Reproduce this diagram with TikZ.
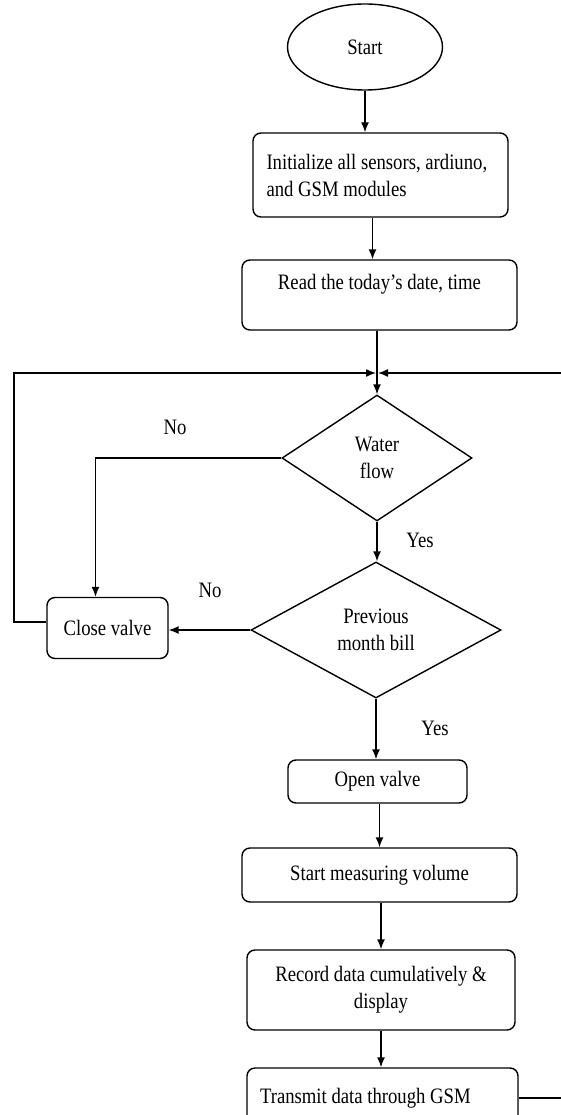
\documentclass[tikz,border=0pt]{standalone}
\usepackage{fontspec}
\setmainfont{Liberation Serif}[FakeStretch=0.85]
\usetikzlibrary{shapes.geometric,arrows.meta,positioning}

\begin{document}
\begin{tikzpicture}[x=1pt, y=-1pt,
    line width=1.4pt,
    font=\fontsize{22}{27}\selectfont,
    box/.style = {draw, rounded corners=8pt, inner sep=0pt, align=center},
    cond/.style = {draw, diamond, inner sep=0pt, align=center},
    flow/.style = {-{Latex[length=10pt,width=8pt]}}]
    \useasboundingbox (0,0) rectangle (561,1115);
    \node[draw, ellipse, minimum width=155pt, minimum height=86pt] (st) at (365,47) {Start};
    \node[box, minimum width=255pt, minimum height=84pt] (init) at (380.5,175)
      {\makebox[228pt][l]{Initialize all sensors, ardiuno,}\\\makebox[228pt][l]{and GSM modules}};
    \node[box, minimum width=275pt, minimum height=70pt] (rd) at (379.5,295)
      {Read the today’s date, time\\\mbox{}};
    \coordinate (j) at (377,373);
    \coordinate (lc) at (14,373);
    \coordinate (rc) at (600,373);
    \node[cond, minimum width=190pt, minimum height=126pt] (wf) at (377,458) {Water\\flow};
    \node[cond, minimum width=250pt, minimum height=136pt] (pb) at (376,630) {Previous\\month bill};
    \node[box, minimum width=121pt, minimum height=61pt] (cv) at (107.5,628) {Close valve};
    \node[box, minimum width=179pt, minimum height=43pt] (ov) at (377.5,781.5) {Open valve};
    \node[box, minimum width=275pt, minimum height=54pt] (mv) at (379.5,875) {Start measuring volume};
    \node[box, minimum width=268pt, minimum height=80pt] (rec) at (381,990)
      {Record data cumulatively \&\\display};
    \node[box, minimum width=271pt, minimum height=60pt] (tx) at (382.5,1098)
      {\makebox[245pt][l]{Transmit data through GSM}};
    % branch labels
    \node (no1) at (175,427) {No};
    \node (yes1) at (420,540) {Yes};
    \node (no2) at (210,590) {No};
    \node (yes2) at (435,728) {Yes};
    % connectors
    \draw[flow] (st.south) -- (st.south |- init.north);
    \draw[flow] ([xshift=-8pt]init.south) -- ([xshift=-8pt]init.south |- rd.north);
    \draw[flow] (rd.south -| wf.north) -- (wf.north);
    \draw[flow] ([yshift=6pt]cv.west) -| (lc) -- ([xshift=-1pt]j);
    \draw[flow] (tx.east) -- (tx.east -| rc) -- (rc) -- ([xshift=1pt]j);
    \draw[flow] (wf.west) -| ([xshift=-12pt]cv.north);
    \draw[flow] (wf.south) -- (wf.south |- pb.north);
    \draw[flow] (pb.west) -- (pb.west -| cv.east);
    \draw[flow] (pb.south) -- (pb.south |- ov.north);
    \draw[flow] (ov.south -| mv.north) -- (mv.north);
    \draw[flow] (mv.south -| rec.north) -- (rec.north);
    \draw[flow] (rec.south) -- (rec.south |- tx.north);
\end{tikzpicture}
\end{document}
